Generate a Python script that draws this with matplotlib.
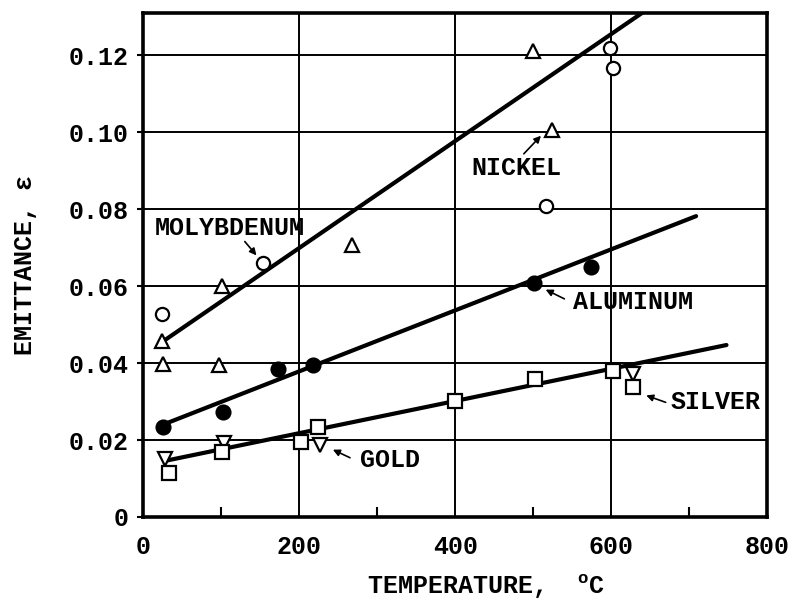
import numpy as np
import matplotlib
matplotlib.use('Agg')
import matplotlib.pyplot as plt
from matplotlib.ticker import MultipleLocator

# data (temperature in deg C, emittance)
nickel_t = [24, 25, 97, 101, 268, 500, 524]
nickel_e = [0.0457, 0.0397, 0.0395, 0.0600, 0.0708, 0.1210, 0.1007]
moly_t = [24, 154, 517, 602, 599]
moly_e = [0.0527, 0.0659, 0.0808, 0.1166, 0.1218]
alum_t = [25, 102, 173, 217, 501, 574]
alum_e = [0.0235, 0.0272, 0.0384, 0.0395, 0.0609, 0.0650]
silver_t = [33, 101, 202, 224, 400, 502, 602, 628]
silver_e = [0.0115, 0.0170, 0.0196, 0.0235, 0.0301, 0.0358, 0.0379, 0.0337]
gold_t = [27, 103, 227, 628]
gold_e = [0.0152, 0.0193, 0.0188, 0.0371]

# fitted lines (end points)
nickel_fit_t = [24, 641]
nickel_fit_e = [0.0455, 0.1312]
alum_fit_t = [25, 709]
alum_fit_e = [0.0240, 0.0782]
agau_fit_t = [28, 748]
agau_fit_e = [0.0146, 0.0447]

font = 'Liberation Mono'
plt.rcParams['font.family'] = [font, 'DejaVu Sans']
plt.rcParams['mathtext.fontset'] = 'custom'
plt.rcParams['mathtext.rm'] = font + ':bold'
plt.rcParams['font.weight'] = 'bold'
plt.rcParams['axes.labelweight'] = 'bold'

fs = 18

fig = plt.figure(figsize=(7.9, 5.99), dpi=100)
ax = fig.add_axes([0.1816, 0.1369, 0.7893, 0.8414])

ax.set_xlim(0, 800)
ax.set_ylim(0, 0.131)

# grid
for xv in [200, 400, 600]:
    ax.axvline(xv, color='black', lw=1.4, zorder=1)
for yv in np.arange(0.02, 0.121, 0.02):
    ax.axhline(yv, color='black', lw=1.4, zorder=1)

# fit lines
for t, e in [(nickel_fit_t, nickel_fit_e), (alum_fit_t, alum_fit_e), (agau_fit_t, agau_fit_e)]:
    ax.plot(t, e, color='black', lw=3.0, solid_capstyle='round', zorder=2)

mk = dict(linestyle='none', markeredgecolor='black', markeredgewidth=1.6, zorder=3)
ax.plot(nickel_t, nickel_e, marker='^', markersize=10, markerfacecolor='white', **mk)
ax.plot(moly_t, moly_e, marker='o', markersize=9.5, markerfacecolor='white', **mk)
ax.plot(alum_t, alum_e, marker='o', markersize=10, markerfacecolor='black', **mk)
ax.plot(gold_t, gold_e, marker='v', markersize=10, markerfacecolor='white', **mk)
ax.plot(silver_t, silver_e, marker='s', markersize=10, markerfacecolor='white', **mk)

# labels with arrows
labels = [
    ('MOLYBDENUM', 111, 0.0750, (130, 0.0716), (145, 0.0680)),
    ('NICKEL', 478, 0.0907, (488, 0.0944), (510, 0.0991)),
    ('ALUMINUM', 628, 0.0560, (540, 0.0567), (516, 0.0591)),
    ('SILVER', 734, 0.0298, (670, 0.0298), (645, 0.0316)),
    ('GOLD', 316, 0.0149, (265, 0.0154), (243, 0.0175)),
]
for txt, tx, ty, tail, head in labels:
    ax.text(tx, ty, txt, ha='center', va='center', fontsize=fs, zorder=4)
    ax.annotate('', xy=head, xytext=tail,
                arrowprops=dict(arrowstyle='-|>', color='black', lw=1.2, mutation_scale=10,
                                shrinkA=0, shrinkB=0), zorder=4)

# ticks
ax.xaxis.set_major_locator(MultipleLocator(200))
ax.xaxis.set_minor_locator(MultipleLocator(100))
ax.tick_params(axis='x', which='major', length=0, pad=13, labelsize=fs)
ax.tick_params(axis='x', which='minor', direction='in', length=7, width=1.5)
ax.tick_params(axis='y', which='major', direction='out', length=4, width=1.5, pad=7, labelsize=fs)
ax.set_yticks(np.arange(0, 0.121, 0.02))
ax.set_yticklabels(['0', '0.02', '0.04', '0.06', '0.08', '0.10', '0.12'])

for sp in ax.spines.values():
    sp.set_linewidth(2.6)
    sp.set_color('black')

ax.set_ylabel('EMITTANCE, ε', fontsize=fs)
ax.yaxis.set_label_coords(-0.171, 0.5)
ax.set_xlabel('TEMPERATURE,  $^{\\rm o}$C', fontsize=fs)
ax.xaxis.set_label_coords(0.549, -0.109)

fig.savefig('out.png', dpi=100)
